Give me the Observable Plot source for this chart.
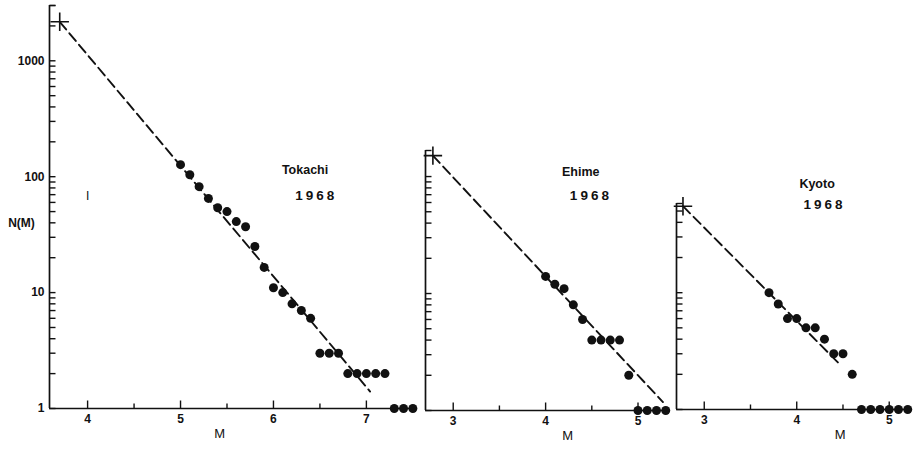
<!DOCTYPE html>
<html><head><meta charset="utf-8">
<script src="https://cdn.jsdelivr.net/npm/d3@7"></script>
<script src="https://cdn.jsdelivr.net/npm/@observablehq/plot@0.6"></script>
<style>
html,body{margin:0;padding:0;background:#fff;}
#wrap{position:relative;width:919px;height:449px;overflow:hidden;background:#fff;}
.panel{position:absolute;top:0;}
</style></head><body><div id="wrap"></div>
<script>
// ---- Tokachi 1968 ----
const tokachiM = [5.0,5.1,5.2,5.3,5.4,5.5,5.6,5.7,5.8,5.9,6.0,6.1,6.2,6.3,6.4,6.5,6.6,6.7,6.8,6.9,7.0,7.1,7.2,7.3,7.4,7.5];
const tokachiN = [127,104,82,65,54,50,41,37,25,16.5,11,10,8,7,6,3,3,3,2,2,2,2,2,1,1,1];
const tokachiFitM = [3.7, 7.04];
const tokachiFitN = [2170, 1.4];
// ---- Ehime 1968 ----
const ehimeM = [4.0,4.1,4.2,4.3,4.4,4.5,4.6,4.7,4.8,4.9,5.0,5.1,5.2,5.3];
const ehimeN = [14,12,11,8,6,4,4,4,4,2,1,1,1,1];
const ehimeFitM = [2.78, 5.27];
const ehimeFitN = [151, 1.18];
// ---- Kyoto 1968 ----
const kyotoM = [3.7,3.8,3.9,4.0,4.1,4.2,4.3,4.4,4.5,4.6,4.7,4.8,4.9,5.0,5.1,5.2];
const kyotoN = [10,8,6,6,5,5,4,3,3,2,1,1,1,1,1,1];
const kyotoFitM = [2.77, 4.46];
const kyotoFitN = [55, 2.46];

// ---- tick labels ----
const tokachiXLabels = [4,5,6,7];
const tokachiXMinor = [4.5,5.5,6.5];
const ehimeXLabels = [3,4,5];
const ehimeXMinor = [3.5,4.5];
const kyotoXLabels = [3,4,5];
const kyotoXMinor = [3.5,4.5];
const yLabels = [1,10,100,1000];
const yMinorTicks = [1,2,3,4,5,6,7,8,9,10,20,30,40,50,60,70,80,90,100,200,300,400,500,600,700,800,900,1000,2000,3000];

const INK = "#111";
const FONT = "'Liberation Sans', Arial, sans-serif";
const fmt = d => String(d);

function panel(cfg) {
  const pts = cfg.M.map((m, i) => ({M: m, N: cfg.N[i]}));
  const fit = cfg.fitM.map((m, i) => ({M: m, N: cfg.fitN[i]}));
  const yt = yMinorTicks.filter(v => v <= cfg.yMax).concat([cfg.yMax]);
  const x0 = cfg.xDomain[0];
  // inward tick lengths, converted from pixels into each scale's units
  const innerW = cfg.width - cfg.marginLeft - cfg.marginRight;
  const innerH = 449 - cfg.marginTop - cfg.marginBottom;
  const unitsPerPxX = (cfg.xDomain[1] - cfg.xDomain[0]) / innerW;
  const decadesPerPx = Math.log10(cfg.yMax) / innerH;
  const yTickLen = 6 * unitsPerPxX;
  const xMajorTop = Math.pow(10, 8 * decadesPerPx);
  const xMinorTop = Math.pow(10, 5 * decadesPerPx);
  const yTickData = yt.map(v => ({a: x0, b: x0 + yTickLen, N: v}));
  const xTickData = cfg.xLabels.map(v => ({M: v, a: 1, b: xMajorTop}))
    .concat(cfg.xMinor.map(v => ({M: v, a: 1, b: xMinorTop})));
  const marks = [
    Plot.ruleX([x0], {stroke: INK, strokeWidth: 1.7}),
    Plot.ruleY([1], {stroke: INK, strokeWidth: 1.7}),
    Plot.link(yTickData, {x1: "a", x2: "b", y1: "N", y2: "N", stroke: INK, strokeWidth: 1.4}),
    Plot.link(xTickData, {x1: "M", x2: "M", y1: "a", y2: "b", stroke: INK, strokeWidth: 1.4}),
    Plot.axisX({ticks: cfg.xLabels, tickSize: 0, tickPadding: 6, tickFormat: fmt, fontSize: 12, fontWeight: "bold", fill: INK, label: null}),
    Plot.line(fit, {x: "M", y: "N", stroke: INK, strokeWidth: 1.9, strokeDasharray: "10,5"}),
    Plot.dot(fit.slice(0, 1), {x: "M", y: "N", symbol: "plus", r: 6, stroke: INK, strokeWidth: 1.6}),
    Plot.dot(pts, {x: "M", y: "N", r: 4.5, fill: INK, stroke: "none"}),
    Plot.text(["M"], {x: cfg.mLabelX, frameAnchor: "bottom", dy: 29, fontSize: 13, fill: INK}),
    Plot.text([cfg.name], {x: cfg.nameAt[0], y: cfg.nameAt[1], fontSize: 12.5, fontWeight: "bold", fill: INK}),
    Plot.text(["1968"], {x: cfg.yearAt[0], y: cfg.yearAt[1], fontSize: 13.5, fontWeight: "bold", fill: INK})
  ];
  if (cfg.yAxisLabels) {
    marks.push(Plot.axisY({ticks: yLabels, tickSize: 0, tickPadding: 5, tickFormat: fmt, fontSize: 12, fontWeight: "bold", fill: INK, label: null}));
    marks.push(Plot.text(["N(M)"], {x: x0, y: 40, dx: -28, fontSize: 12, fontWeight: "bold", fill: INK}));
    marks.push(Plot.text(["I"], {x: 4.0, y: 68, fontSize: 12, fill: INK}));
  }
  const chart = Plot.plot({
    width: cfg.width, height: 449,
    marginLeft: cfg.marginLeft, marginRight: cfg.marginRight,
    marginTop: cfg.marginTop, marginBottom: cfg.marginBottom,
    x: {domain: cfg.xDomain, label: null},
    y: cfg.yAxisLabels
      ? {type: "log", domain: [1, cfg.yMax], label: null}
      : {type: "log", domain: [1, cfg.yMax], label: null, axis: null},
    style: {background: "transparent", overflow: "visible", fontFamily: FONT, fontSize: "12px", color: INK},
    marks
  });
  d3.select(chart).selectAll("text").filter(function () { return this.textContent === "1968"; }).attr("letter-spacing", "3px");
  const div = document.createElement("div");
  div.className = "panel";
  div.style.left = cfg.left + "px";
  div.appendChild(chart);
  document.getElementById("wrap").appendChild(div);
}

panel({
  left: 0, width: 425, marginLeft: 49, marginRight: 8, marginTop: 5, marginBottom: 41,
  xDomain: [3.59, 7.55], yMax: 3000,
  M: tokachiM, N: tokachiN, fitM: tokachiFitM, fitN: tokachiFitN,
  xLabels: tokachiXLabels, xMinor: tokachiXMinor, yAxisLabels: true,
  mLabelX: 5.42, name: "Tokachi", nameAt: [6.34, 115], yearAt: [6.46, 68]
});
panel({
  left: 419, width: 255, marginLeft: 6, marginRight: 6, marginTop: 150, marginBottom: 39,
  xDomain: [2.70, 5.33], yMax: 167,
  M: ehimeM, N: ehimeN, fitM: ehimeFitM, fitN: ehimeFitN,
  xLabels: ehimeXLabels, xMinor: ehimeXMinor, yAxisLabels: false,
  mLabelX: 4.24, name: "Ehime", nameAt: [4.38, 110], yearAt: [4.49, 69]
});
panel({
  left: 670, width: 249, marginLeft: 6, marginRight: 9, marginTop: 203, marginBottom: 40,
  xDomain: [2.70, 5.23], yMax: 58,
  M: kyotoM, N: kyotoN, fitM: kyotoFitM, fitN: kyotoFitN,
  xLabels: kyotoXLabels, xMinor: kyotoXMinor, yAxisLabels: false,
  mLabelX: 4.47, name: "Kyoto", nameAt: [4.22, 85], yearAt: [4.30, 56.5]
});
</script></body></html>
